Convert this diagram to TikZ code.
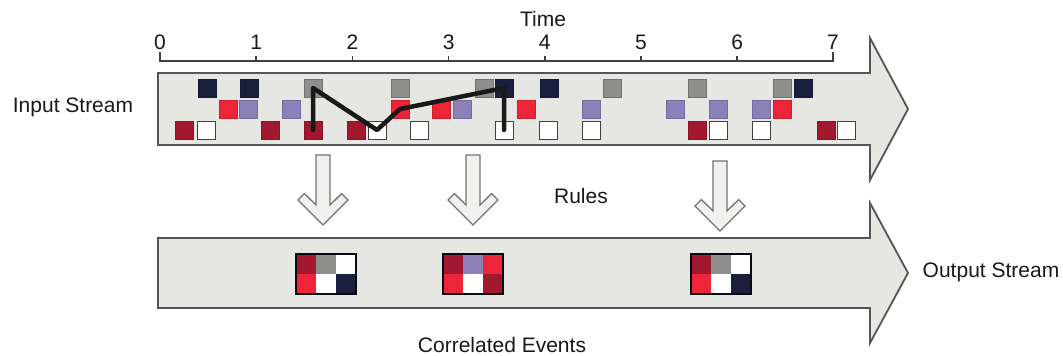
\documentclass[tikz,border=0pt]{standalone}
\usepackage{fontspec}
\setmainfont{Liberation Sans}
\definecolor{cnavy}{HTML}{1A1F3D}
\definecolor{cgray}{HTML}{8E8E8C}
\definecolor{cred}{HTML}{EE2438}
\definecolor{cdred}{HTML}{A2182E}
\definecolor{cpurp}{HTML}{8C80B8}
\definecolor{cbody}{HTML}{E6E6E2}
\definecolor{cedge}{HTML}{555555}
\begin{document}
\begin{tikzpicture}[x=1pt,y=-1pt,
  lab/.style={font=\fontsize{21}{25}\selectfont, inner sep=0pt, text=black!90},
  ev/.style={rectangle, minimum size=18pt, inner sep=0pt, outer sep=0pt, line width=0.6pt},
  nv/.style={ev, fill=cnavy, draw=cnavy!80!black},
  gr/.style={ev, fill=cgray, draw=cgray!80!black},
  rd/.style={ev, fill=cred, draw=cred!85!black},
  dr/.style={ev, fill=cdred, draw=cdred!85!black},
  pu/.style={ev, fill=cpurp, draw=cpurp!85!black},
  wh/.style={ev, fill=white, draw=black!75, line width=1pt},
  cell/.style={rectangle, minimum size=20pt, inner sep=0pt, outer sep=0pt},
  bigarrow/.style={fill=cbody, draw=cedge, line width=1.8pt, line join=miter},
  rulearrow/.pic={\draw[fill=cbody!60!white, draw=black!55, line width=1.3pt, line join=miter]
     (-7,0) -- (-7,50) -- (-18.6,38.6) -- (-25,45) -- (0,70) -- (25,45) -- (18.6,38.6) -- (7,50) -- (7,0) -- cycle;}
]
\useasboundingbox[fill=white] (0,0) rectangle (1063,356);

% time axis
\node[lab] (time) at (543,19) {Time};
\draw[line width=1.5pt, draw=black!75] (160,52) -- (160,61) -- (833,61) -- (833,52);
\foreach \i/\x in {1/256.2,2/352.4,3/448.6,4/544.8,5/641,6/737.2}
  \draw[line width=1.5pt, draw=black!75] (\x,61) -- (\x,56);
\foreach \i/\x in {0/160,1/256.2,2/352.4,3/448.6,4/544.8,5/641,6/737.2,7/833}
  \node[lab] (d\i) at (\x,42) {\i};

% big arrows
\draw[bigarrow] (158,73) -- (870,73) -- (870,38) -- (908,109) -- (870,180) -- (870,145) -- (158,145) -- cycle;
\draw[bigarrow] (158,238) -- (870,238) -- (870,203) -- (908,273) -- (870,343) -- (870,308) -- (158,308) -- cycle;

% input events: top row
\foreach \x/\s in {207/nv,249/nv,313/gr,400/gr,484/gr,504/nv,549/nv,612/gr,697/gr,782/gr,803/nv}
  \node[\s] (t\x) at (\x,88) {};
% middle row
\foreach \x/\s in {228/rd,248/pu,291/pu,400/rd,441/rd,462/pu,526/rd,591/pu,675/pu,718/pu,761/pu,782/rd}
  \node[\s] (m\x) at (\x,109) {};
% bottom row
\foreach \x/\s in {184/dr,206/wh,270/dr,313/dr,356/dr,377/wh,419/wh,504/wh,548/wh,591/wh,697/dr,718/wh,761/wh,826/dr,846/wh}
  \node[\s] (b\x) at (\x,130) {};

% pattern path
\draw[line width=4.5pt, line join=round, line cap=round, black!90]
  (b313.center) -- (t313.center) -- (b377.center) -- (m400.center) -- (t504.center) -- (b504.center);

% rule arrows
\pic (ra1) at (323,155) {rulearrow};
\pic (ra2) at (473,155) {rulearrow};
\pic (ra3) at (720,161) {rulearrow};

% correlated events
\foreach \k/\x/\a/\b/\c/\d/\e/\f in {1/296/cdred/cgray/white/cred/white/cnavy, 2/443/cdred/cpurp/cred/cred/white/cdred, 3/691/cdred/cgray/white/cred/white/cnavy}{
  \node[cell, fill=\a] (c\k a) at (\x+10,264) {};
  \node[cell, fill=\b] (c\k b) at (\x+30,264) {};
  \node[cell, fill=\c] (c\k c) at (\x+50,264) {};
  \node[cell, fill=\d] (c\k d) at (\x+10,284) {};
  \node[cell, fill=\e] (c\k e) at (\x+30,284) {};
  \node[cell, fill=\f] (c\k f) at (\x+50,284) {};
  \draw[line width=2pt, draw=black!70!cnavy] (c\k a.north west) rectangle (c\k f.south east);
}

% labels
\node[lab] (inlab) at (73,107) {Input Stream};
\node[lab] (outlab) at (991,272) {Output Stream};
\node[lab] (rules) at (581,196) {Rules};
\node[lab] (corr) at (502,345) {Correlated Events};
\end{tikzpicture}
\end{document}
